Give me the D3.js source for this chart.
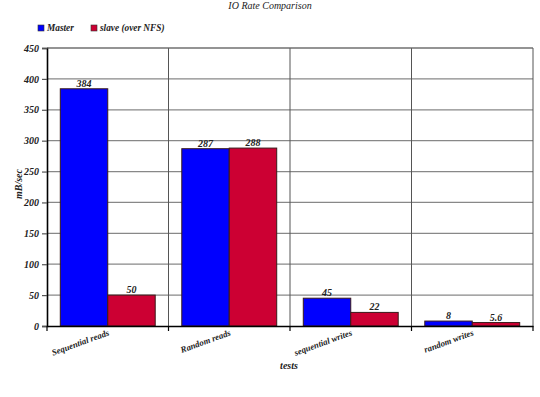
<!DOCTYPE html>
<html>
<head>
<meta charset="utf-8">
<script src="https://cdn.jsdelivr.net/npm/d3@7"></script>
<style>
  body { margin: 0; background: #fff; }
</style>
</head>
<body>
<svg width="540" height="397"></svg>
<script>
const tests = ["Sequential reads", "Random reads", "sequential writes", "random writes"];
const seriesNames = ["Master", "slave (over NFS)"];
const master = [384, 287, 45, 8];
const slave = [50, 288, 22, 5.6];
const yTicks = [0, 50, 100, 150, 200, 250, 300, 350, 400, 450];
const colors = ["#0000ff", "#cc0033"];

const svg = d3.select("svg");
const pLeft = 47, pRight = 533, pTop = 48, pBottom = 326;

const x = d3.scaleBand().domain(tests).range([pLeft, pRight]);
const y = d3.scaleLinear().domain([0, 450]).range([pBottom, pTop]);
const inner = d3.scaleBand().domain([0, 1]).range([0, x.bandwidth()]).paddingOuter(0.28).paddingInner(0);

// title
svg.append("text").attr("x", 270).attr("y", 9).attr("text-anchor", "middle")
  .attr("class", "plain").text("IO Rate Comparison");

// legend
const leg = svg.append("g");
[[38, 47], [91, 100]].forEach((p, i) => {
  leg.append("rect").attr("x", p[0]).attr("y", 25).attr("width", 6).attr("height", 6)
    .attr("fill", colors[i]).attr("stroke", "#333").attr("stroke-width", 0.6);
  leg.append("text").attr("class", "leg").attr("x", p[1]).attr("y", 31).text(seriesNames[i]);
});

// horizontal grid
svg.append("g").selectAll("line").data(yTicks.slice(1)).enter().append("line")
  .attr("x1", pLeft).attr("x2", pRight)
  .attr("y1", d => y(d)).attr("y2", d => y(d))
  .attr("stroke", "#888").attr("stroke-width", 1.2);

// vertical grid
svg.append("g").selectAll("line").data(tests.slice(1).concat(["end"])).enter().append("line")
  .attr("x1", d => d === "end" ? pRight : x(d)).attr("x2", d => d === "end" ? pRight : x(d))
  .attr("y1", pTop).attr("y2", pBottom)
  .attr("stroke", "#555").attr("stroke-width", 1);

// bars
const data = tests.map((t, i) => ({ t, vals: [master[i], slave[i]] }));
const groups = svg.append("g").selectAll("g").data(data).enter().append("g")
  .attr("transform", d => "translate(" + x(d.t) + ",0)");
groups.selectAll("rect").data(d => d.vals).enter().append("rect")
  .attr("x", (d, i) => inner(i))
  .attr("y", d => y(d))
  .attr("width", inner.bandwidth())
  .attr("height", d => pBottom - y(d))
  .attr("fill", (d, i) => colors[i])
  .attr("stroke", "#3a1a1a").attr("stroke-width", 1);
groups.selectAll("text").data(d => d.vals).enter().append("text")
  .attr("x", (d, i) => inner(i) + inner.bandwidth() / 2)
  .attr("y", d => y(d) - 2)
  .attr("text-anchor", "middle")
  .text(d => d);

// y axis
const yAxis = svg.append("g").attr("transform", "translate(" + pLeft + ",0)")
  .call(d3.axisLeft(y).tickValues(yTicks).tickSize(5).tickPadding(3));
yAxis.select(".domain").attr("stroke", "#000").attr("stroke-width", 1.6);
yAxis.selectAll(".tick line").attr("stroke", "#555").attr("stroke-width", 1.2);

// x axis
const xAxis = svg.append("g").attr("transform", "translate(0," + pBottom + ")")
  .call(d3.axisBottom(x).tickSize(0).tickFormat(""));
xAxis.select(".domain").attr("stroke", "#000").attr("stroke-width", 1.6);
xAxis.selectAll(".tick").remove();
xAxis.selectAll("line.sep").data(tests.concat(["end"])).enter().append("line")
  .attr("x1", d => d === "end" ? pRight : x(d)).attr("x2", d => d === "end" ? pRight : x(d))
  .attr("y1", 0).attr("y2", 5).attr("stroke", "#000").attr("stroke-width", 1.2);
xAxis.selectAll("text.lab").data(tests).enter().append("text")
  .attr("class", "xlab")
  .attr("text-anchor", "end")
  .attr("transform", d => "translate(" + (x(d) + x.bandwidth() / 2 + 2) + ",9) rotate(-20)")
  .text(d => d);

// top border
svg.append("line").attr("x1", pLeft).attr("x2", pRight).attr("y1", pTop).attr("y2", pTop)
  .attr("stroke", "#666").attr("stroke-width", 1.2);

// axis titles
svg.append("text").attr("transform", "translate(22," + ((pTop + pBottom) / 2 - 3) + ") rotate(-90)")
  .attr("text-anchor", "middle").text("mB/sec");
svg.append("text").attr("x", 289).attr("y", 369).attr("text-anchor", "middle")
  .text("tests");

// text styling, applied inline on every label
svg.selectAll("text")
  .style("font-family", "'Liberation Serif', serif")
  .style("font-style", "italic")
  .style("font-weight", "bold")
  .style("font-size", "10px")
  .attr("fill", "#222");
svg.selectAll("text.plain").style("font-weight", "normal");
svg.selectAll("text.leg").style("font-size", "9.3px");
svg.selectAll("text.xlab").style("font-size", "8.8px");
</script>
</body>
</html>
